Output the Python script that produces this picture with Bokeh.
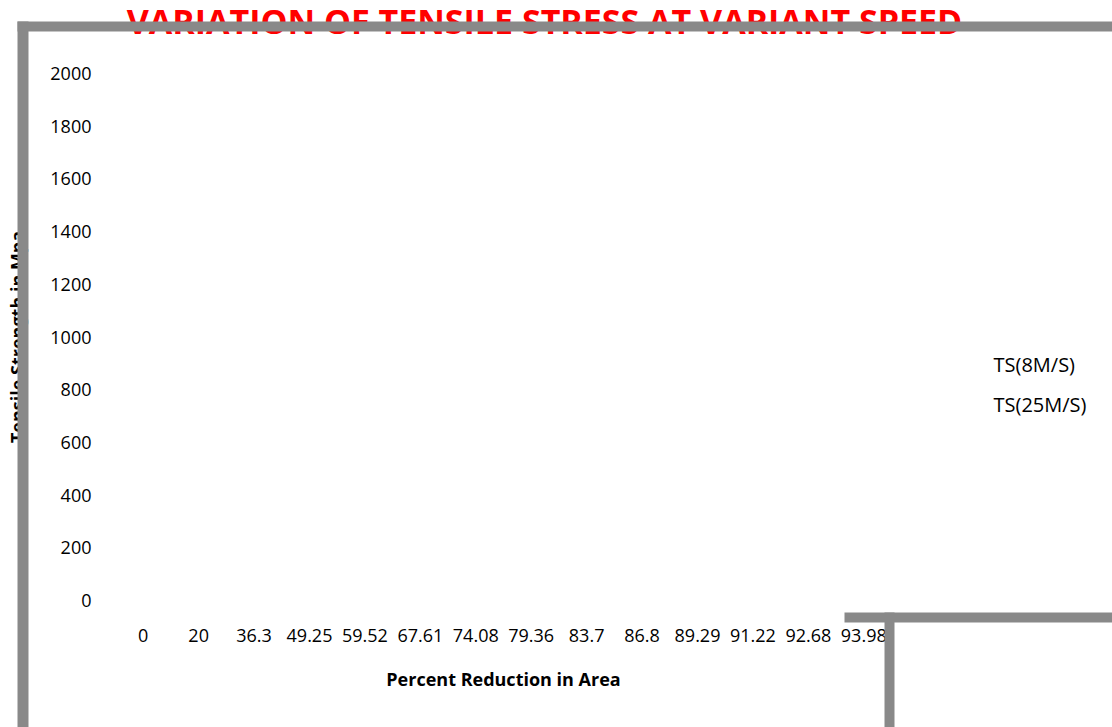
from bokeh.plotting import figure
from bokeh.models import Range1d, FixedTicker, SingleIntervalTicker
from bokeh.core.properties import value
from bokeh.embed import file_html
from bokeh.resources import INLINE

# ---- data ----
reduction_pct = ["0", "20", "36.3", "49.25", "59.52", "67.61", "74.08", "79.36",
                 "83.7", "86.8", "89.29", "91.22", "92.68", "93.98"]
ts_8ms = []    # no values plotted in the reference
ts_25ms = []   # no values plotted in the reference
series_names = ["TS(8M/S)", "TS(25M/S)"]
series_colors = ["#4472C4", "#ED7D31"]
title_text = "VARIATION OF TENSILE STRESS AT VARIANT SPEED"

FONT = "Open Sans"
GREY = "#898989"
W, H = 1112, 727
FL, FR, FT, FB = 115, 891, 73, 600   # plot frame edges in page pixels

pos = list(range(len(reduction_pct)))   # category slots

p = figure(width=W, height=H, output_backend="svg", toolbar_location=None,
           x_range=Range1d(-0.5, len(reduction_pct) - 0.5),
           y_range=Range1d(0, 2000),
           min_border_left=FL, min_border_right=W - FR, min_border_top=FT, min_border_bottom=H - FB)
# pixel-space ranges for the chart decoration (frame lines, title, legend)
p.extra_x_ranges = {"px": Range1d(FL, FR)}
p.extra_y_ranges = {"px": Range1d(FB, FT)}
p.outline_line_color = None
p.xgrid.grid_line_color = None
p.ygrid.grid_line_color = None

for vals, col in zip([ts_8ms, ts_25ms], series_colors):
    p.line(x=pos[:len(vals)], y=vals, line_color=col, line_width=2)

for ax in (p.xaxis[0], p.yaxis[0]):
    ax.axis_line_color = None
    ax.major_tick_line_color = None
    ax.minor_tick_line_color = None
    ax.major_tick_out = 0
    ax.major_tick_in = 0
    ax.minor_tick_out = 0
    ax.minor_tick_in = 0
    ax.major_label_text_font = FONT
    ax.major_label_text_font_size = "18px"
    ax.major_label_text_color = "#000000"
    ax.axis_label_text_font = FONT
    ax.axis_label_text_font_size = "18px"
    ax.axis_label_text_font_style = "bold"
    ax.axis_label_text_color = "#000000"

p.xaxis[0].ticker = FixedTicker(ticks=pos, minor_ticks=[])
p.xaxis[0].major_label_overrides = {i: s for i, s in zip(pos, reduction_pct)}
p.yaxis[0].ticker = SingleIntervalTicker(interval=200)
p.yaxis[0].major_label_standoff = 24
p.yaxis[0].axis_label = "Tensile Strength in Mpa"
p.yaxis[0].axis_label_standoff = 18
p.xaxis[0].major_label_standoff = 28
p.xaxis[0].axis_label = "Percent Reduction in Area"
p.xaxis[0].axis_label_standoff = 22

# title (drawn beneath the grey frame lines)
p.text(x=[544], y=[20], text=[title_text], x_range_name="px", y_range_name="px",
       text_font=value(FONT), text_font_size="34px", text_font_style="bold",
       text_color="#FF0000", text_align="center", text_baseline="middle",
       level="annotation")

# legend entries (no visible markers in the reference)
p.text(x=[993, 993], y=[364, 404], text=series_names, x_range_name="px", y_range_name="px",
       text_font=value(FONT), text_font_size="20px", text_color="#000000",
       text_align="left", text_baseline="middle", level="annotation")

# grey frame lines (decoration, pixel space)
band_left = [17, 17, 844, 884]
band_right = [1300, 28, 1300, 894]
band_top = [21, 21, 612, 612]
band_bottom = [31, 900, 622, 900]
p.quad(left=band_left, right=band_right, top=band_top, bottom=band_bottom,
       x_range_name="px", y_range_name="px", fill_color=GREY, line_color=None,
       level="overlay")

open("out.html", "w").write(file_html(p, INLINE))
